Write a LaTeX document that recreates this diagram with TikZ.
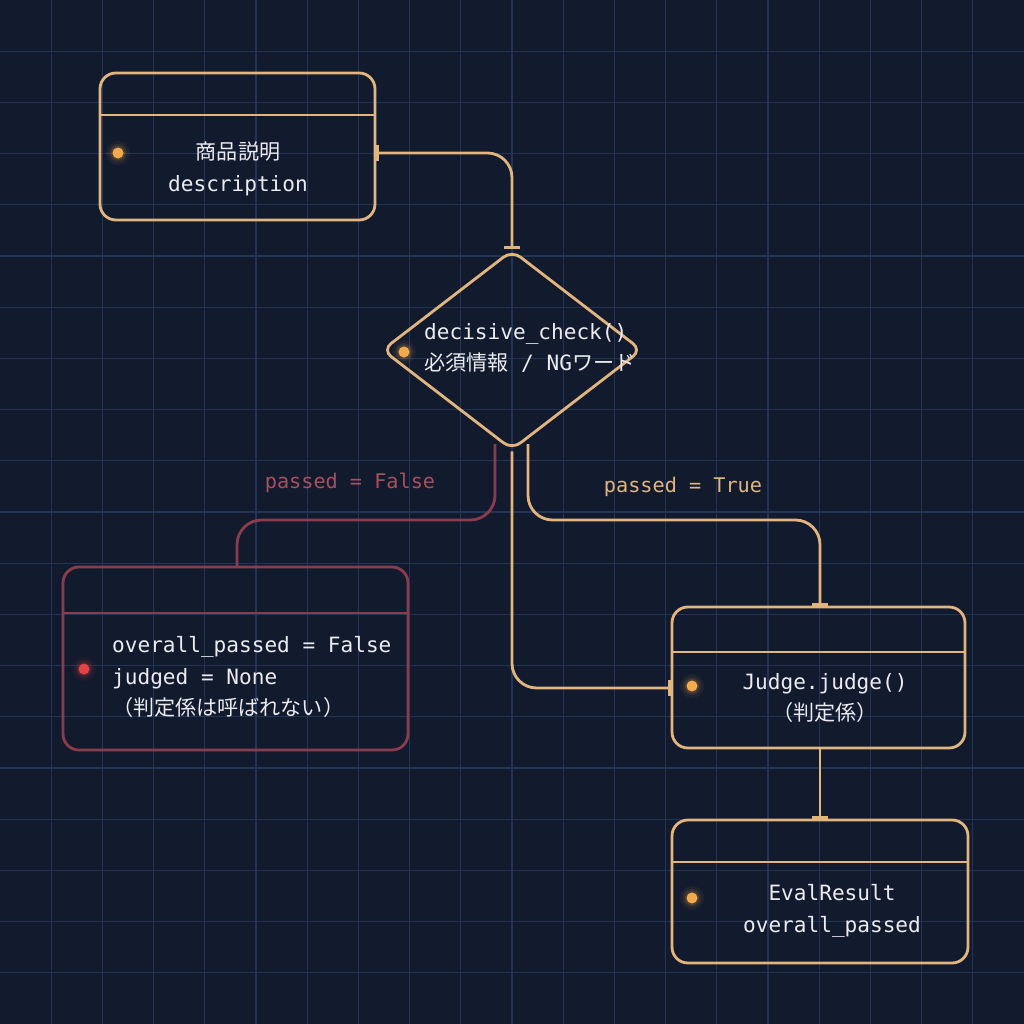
\documentclass[tikz,border=0pt]{standalone}
\usepackage{fontspec}
\setmainfont{DejaVu Sans Mono}
\newfontfamily\cjk{Noto Sans CJK JP}
\usetikzlibrary{arrows.meta,shapes.geometric}
\definecolor{bg}{HTML}{121A2E}
\definecolor{grid}{HTML}{243456}
\definecolor{org}{HTML}{E2B47E}
\definecolor{redl}{HTML}{8A3C4C}
\definecolor{redt}{HTML}{A8505C}
\definecolor{dot}{HTML}{F2AA4C}
\definecolor{rdot}{HTML}{E04444}
\definecolor{txt}{HTML}{ECECF0}
\begin{document}
\begin{tikzpicture}[x=0.02cm,y=-0.02cm,
  box/.style={draw=#1,line width=1.6pt,rounded corners=9pt,inner sep=0pt},
  conn/.style={draw=#1,line width=1.6pt,rounded corners=14pt},
  bar/.style={-{Bar[width=9pt,line width=1.6pt]}},
  lbl/.style={text=txt,font=\fontsize{12}{18}\selectfont,align=center},
  edl/.style={font=\fontsize{11.5}{14}\selectfont}]
\fill[bg] (0,0) rectangle (1024,1024);
\useasboundingbox (0,0) rectangle (1024,1024);
\foreach \i in {1,...,19}{
  \draw[grid,line width=0.6pt] (\i*51.2,0) -- (\i*51.2,1024);
  \draw[grid,line width=0.6pt] (0,\i*51.2) -- (1024,\i*51.2);}
\newcommand\glowdot[2]{%
  \foreach \r/\o in {12/0.06,9/0.1,7/0.15}{\fill[#2,opacity=\o] #1 circle (\r);}
  \fill[#2] #1 circle (5.5);}
% boxes
\node[box=org,minimum width=5.5cm,minimum height=2.94cm] (b1) at (237.5,146.5) {};
\draw[org,line width=1.6pt] (100,115) -- (375,115);
\node[diamond,draw=org,line width=1.6pt,rounded corners=6pt,minimum width=5.2cm,minimum height=4cm,inner sep=0pt] (d) at (512,350) {};
\node[box=redl,minimum width=6.9cm,minimum height=3.66cm] (rb) at (235.5,658.5) {};
\draw[redl,line width=1.6pt] (63,613) -- (408,613);
\node[box=org,minimum width=5.86cm,minimum height=2.82cm] (jb) at (818.5,677.5) {};
\draw[org,line width=1.6pt] (672,652) -- (965,652);
\node[box=org,minimum width=5.92cm,minimum height=2.86cm] (eb) at (820,891.5) {};
\draw[org,line width=1.6pt] (672,862) -- (968,862);
% dots
\glowdot{(118,153)}{dot}
\glowdot{(404,352)}{dot}
\glowdot{(84,669)}{rdot}
\glowdot{(692,686)}{dot}
\glowdot{(692,898)}{dot}
% texts
\node[lbl] (t1) at (238,169) {{\cjk 商品説明}\\description};
\node[lbl,align=left,anchor=west] (t2) at (418,348) {decisive\_check()\\{\cjk 必須情報} / NG{\cjk ワード}};
\node[lbl,align=left,anchor=west] (t3) at (106,677) {overall\_passed = False\\judged = None\\{\cjk （判定係は呼ばれない）}};
\node[lbl] (t4) at (825,698) {Judge.judge()\\{\cjk （判定係）}};
\node[lbl] (t5) at (832,911) {EvalResult\\overall\_passed};
% connectors
\coordinate (s1) at (b1.east |- 0,153);
\draw[conn=org,{Bar[width=9pt,line width=1.6pt]}-{Bar[width=9pt,line width=1.6pt]}] (s1) -- (512,153) -- (d.north);
\draw[conn=redl] (495,444) -- (495,520) -- (237,520) -- (237,567);
\coordinate (rt) at (237,567);
\node[edl,text=redt] (lf) at (350,483) {passed = False};
\draw[conn=org,bar] (528,444) -- (528,520) -- (820,520) -- (jb.north -| 820,0);
\node[edl,text=org] (lt) at (683,487) {passed = True};
\draw[conn=org,bar] (d.south) -- (512,688) -- (jb.west |- 0,688);
\draw[org,line width=1.6pt,bar] (jb.south -| 820,0) -- (eb.north -| 820,0);
\end{tikzpicture}
\end{document}
